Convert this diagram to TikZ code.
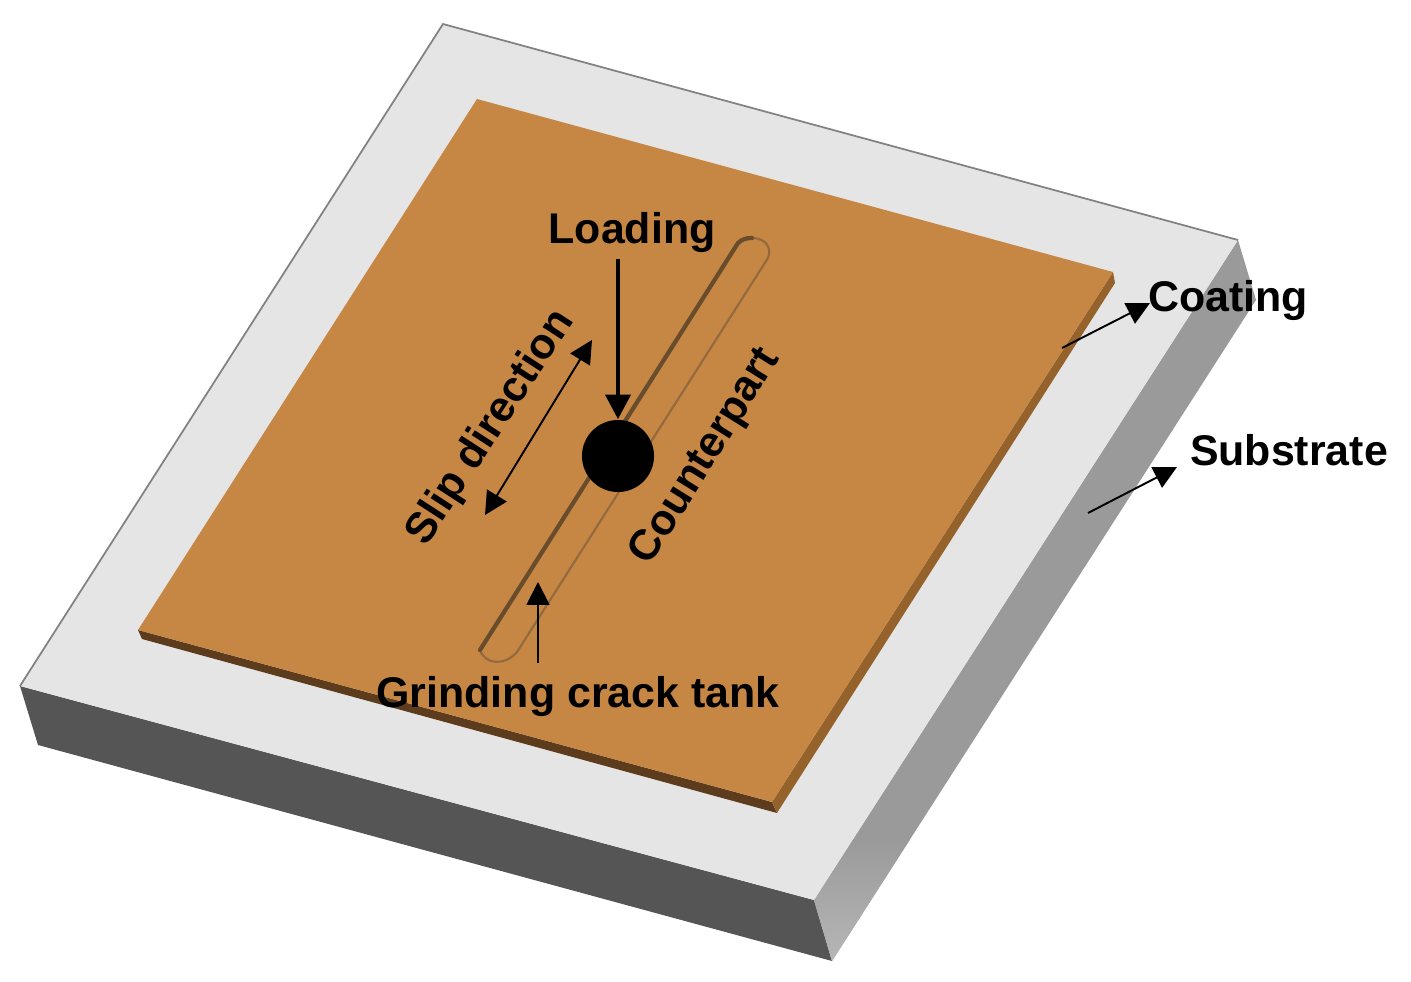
\documentclass[tikz,border=0pt]{standalone}
\usepackage{fontspec}
\setmainfont{Liberation Sans}
\usetikzlibrary{arrows.meta}
\definecolor{topGrey}{RGB}{229, 229, 229}
\definecolor{frontGrey}{RGB}{85, 85, 85}
\definecolor{sideGrey}{RGB}{154, 154, 154}
\definecolor{sideLight}{RGB}{182, 182, 182}
\definecolor{edgeGrey}{RGB}{130, 130, 130}
\definecolor{coatColor}{RGB}{198, 134, 68}
\definecolor{coatFront}{RGB}{92, 60, 28}
\definecolor{coatSide}{RGB}{150, 98, 44}
\definecolor{tankDark}{RGB}{104, 76, 44}
\definecolor{tankLight}{RGB}{146, 106, 62}
\tikzset{
  label text/.style={font=\fontsize{12.2}{14}\selectfont\bfseries, inner sep=0pt},
  thin arrow/.style={-{Triangle[length=6.5pt,width=6.5pt]}, line width=0.55pt},
}

\begin{document}
\begin{tikzpicture}[x=0.01cm, y=-0.01cm]
\useasboundingbox (0,0) rectangle (1411,982);

% Substrate
\fill[frontGrey] (20,686) -- (38,745) -- (832,961) -- (814,900) -- cycle;
\fill[sideGrey] (814,900) -- (832,961) -- (1256,300) -- (1238,240) -- cycle;
\begin{scope}
\clip (814,900) -- (832,961) -- (1256,300) -- (1238,240) -- cycle;
\shade[bottom color=sideLight, top color=sideGrey] (780,840) rectangle (920,961);
\end{scope}
\fill[topGrey] (443,24) -- (1238,240) -- (814,900) -- (20,686) -- cycle;
\draw[edgeGrey, line width=0.5pt] (20,686) -- (443,24) -- (1238,240);

% Coating
\fill[coatFront] (138,630) -- (142,639) -- (777,813) -- (772,802) -- cycle;
\fill[coatSide] (772,802) -- (777,813) -- (1115,283) -- (1113,272) -- cycle;
\fill[coatColor] (477,99) -- (1113,272) -- (772,802) -- (138,630) -- cycle;

% Tank
\draw[tankLight, line width=0.6pt] (752,238) .. controls (766,238) and (772,248) .. (768,258)
    -- (517,652) .. controls (505,666) and (485,665) .. (480,650);
\draw[tankDark, line width=1.2pt, line cap=round] (480,650) -- (738,243) .. controls (742,239) and (747,238) .. (752,238);

% Counterpart
\node[circle, fill=black, minimum size=0.72cm, inner sep=0pt] (ball) at (618,456) {};

% Labels
\node[label text] (loading) at (632,233) {Loading};
\node[label text, rotate=57] (slip) at (491,428) {Slip direction};
\node[label text, rotate=58] (counterpart) at (706,457) {Counterpart};
\node[label text] (grinding) at (578,697) {Grinding crack tank};
\node[label text] (coating) at (1228,301) {Coating};
\node[label text] (substrate) at (1289,450) {Substrate};

% Arrows
\coordinate (loadingtail) at (618,259);
\coordinate (sliptop) at (592,340);
\coordinate (slipbottom) at (485,515);
\coordinate (tanktail) at (538,663);
\coordinate (tanktip) at (538,582);
\coordinate (coatingtail) at (1062,348);
\coordinate (coatingtip) at (1150,303);
\coordinate (substratetail) at (1088,513);
\coordinate (substratetip) at (1177,467);

\draw[-{Triangle[length=7pt,width=7pt]}, line width=1.4pt] (loadingtail) -- (ball.north);
\draw[{Triangle[length=6.5pt,width=6.5pt]}-{Triangle[length=6.5pt,width=6.5pt]}, line width=0.55pt] (slipbottom) -- (sliptop);
\draw[thin arrow] (tanktail) -- (tanktip);
\draw[thin arrow] (coatingtail) -- (coatingtip);
\draw[thin arrow] (substratetail) -- (substratetip);
\end{tikzpicture}
\end{document}
